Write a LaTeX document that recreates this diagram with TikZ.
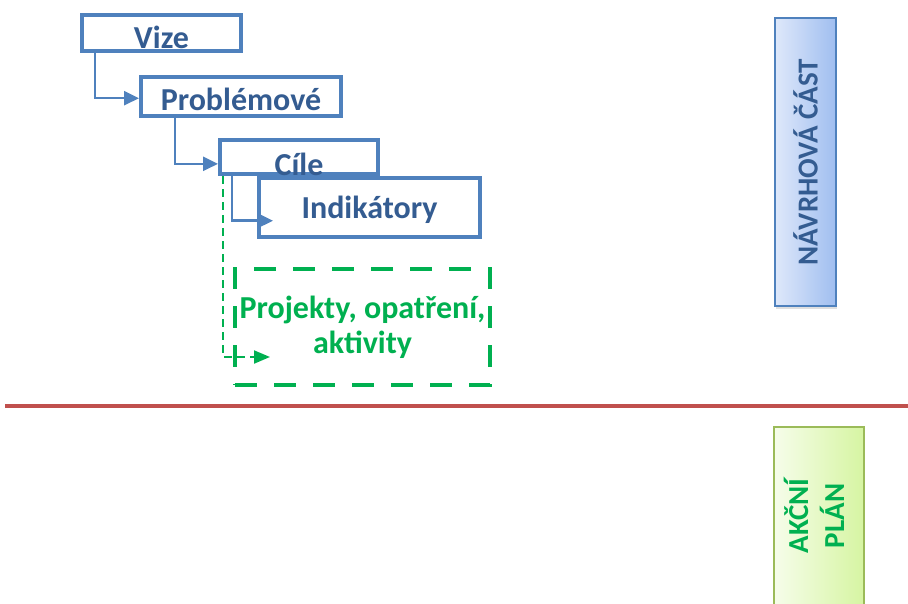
\documentclass[tikz,border=0pt]{standalone}
\usepackage{fontspec}
\setmainfont{Carlito}
\usepackage{graphicx}
\usetikzlibrary{arrows.meta,calc,shadows}
\definecolor{bline}{RGB}{79,129,189}
\definecolor{btext}{RGB}{52,92,145}
\definecolor{ggreen}{RGB}{0,176,80}
\definecolor{rline}{RGB}{192,80,77}
\definecolor{bshadeL}{RGB}{222,232,250}
\definecolor{bshadeR}{RGB}{160,190,240}
\definecolor{gshadeL}{RGB}{246,253,234}
\definecolor{gshadeR}{RGB}{214,245,162}
\definecolor{gborder}{RGB}{155,187,89}
\tikzset{
  bluebox/.style={draw=bline, line width=4pt, fill=white, inner xsep=0pt, inner ysep=-12pt,
    text=btext, font=\fontsize{32}{38}\selectfont\bfseries, text depth=0pt},
  bluearrow/.style={draw=bline, line width=2.5pt, -{Triangle[length=15pt,width=14pt]}},
  greenbox/.style={draw=ggreen, line width=4pt, dash pattern=on 22pt off 17pt, inner sep=0pt,
    text=ggreen, align=center, font=\fontsize{32}{35}\selectfont\bfseries},
  greenarrow/.style={draw=ggreen, line width=2pt, dash pattern=on 8pt off 5pt,
    -{Triangle[length=16pt,width=13pt]}},
  partbox/.style={inner sep=0pt, font=\fontsize{29}{36}\selectfont\bfseries,
    drop shadow={shadow xshift=1pt, shadow yshift=-3pt, opacity=0.25}},
}
\begin{document}
\begin{tikzpicture}[x=1pt,y=-1pt]
\useasboundingbox (0,0) rectangle (908,603);
% red separator
\coordinate (redL) at (5,405.5);
\coordinate (redR) at (908,405.5);
\draw[rline, line width=4pt] (redL) -- (redR);
% blue cascade
\node[bluebox, minimum width=159pt, minimum height=36pt, text height=30pt] (vize) at (161.5,33) {Vize};
\node[bluebox, minimum width=200pt, minimum height=39pt, text height=27pt] (prob) at (241,96.5) {Problémové};
\node[bluebox, minimum width=158pt, minimum height=34pt, text height=36pt] (cile) at (299,157) {Cíle};
\node[bluebox, minimum width=221pt, minimum height=59pt, text height=21pt] (ind) at (369.5,207.5) {Indikátory};
% green dashed box
\node[greenbox, minimum width=255pt, minimum height=116pt] (proj) at (362.5,327) {Projekty, opatření,\\aktivity};
% arrows
\draw[bluearrow] ([xshift=15pt]vize.south west) |- ($(prob.south west)!0.46!(prob.north west)$);
\draw[bluearrow] ([xshift=36pt]prob.south west) |- ($(cile.south west)!0.32!(cile.north west)$);
\draw[bluearrow] ([xshift=14pt]cile.south west) |- ([xshift=16pt]$(ind.south west)!0.29!(ind.north west)$);
\draw[greenarrow] ([xshift=5pt]cile.south west) |- ([xshift=37pt]$(proj.south west)!0.25!(proj.north west)$);
% side labels
\node[partbox, draw=bline, line width=1.5pt, left color=bshadeL, right color=bshadeR,
  minimum width=61pt, minimum height=288pt, text=btext] (navrh) at (805.5,162)
  {\rotatebox{90}{NÁVRHOVÁ ČÁST}};
\node[partbox, draw=gborder, line width=2pt, left color=gshadeL, right color=gshadeR,
  minimum width=90pt, minimum height=178pt, text=ggreen] (akce) at (819,516)
  {\rotatebox{90}{\begin{tabular}{@{}c@{}}AKČNÍ\\PLÁN\end{tabular}}};
\end{tikzpicture}
\end{document}
